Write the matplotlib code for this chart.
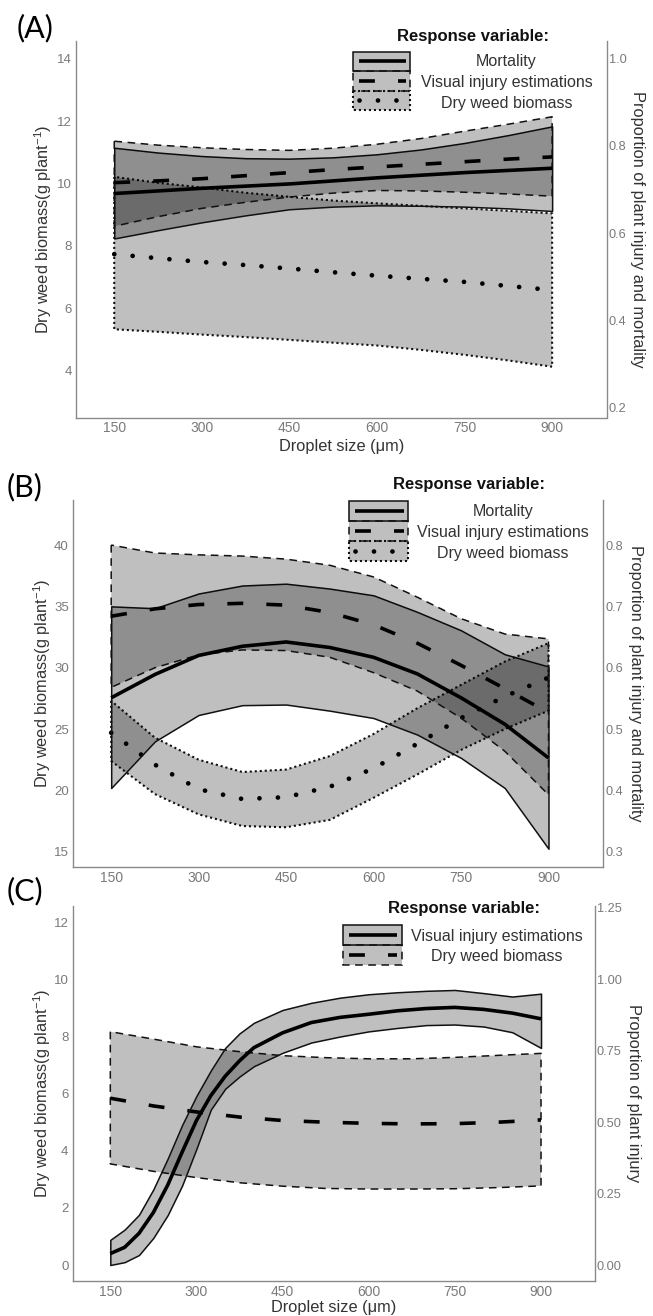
import matplotlib
matplotlib.use('Agg')
import matplotlib.pyplot as plt
from matplotlib.patches import Rectangle
from matplotlib.lines import Line2D

plt.rcParams['font.family'] = ['Liberation Sans', 'DejaVu Sans']
plt.rcParams['mathtext.fontset'] = 'custom'
plt.rcParams['mathtext.rm'] = 'Liberation Sans'
plt.rcParams['mathtext.it'] = 'Liberation Sans:italic'

# ---------------- data ----------------
x75 = [150, 225, 300, 375, 450, 525, 600, 675, 750, 825, 900]

# Panel A
a_mort_lo = [0.588, 0.607, 0.625, 0.641, 0.655, 0.661, 0.664, 0.663, 0.661, 0.657, 0.651]
a_mort_fit = [0.691, 0.697, 0.703, 0.708, 0.713, 0.720, 0.727, 0.733, 0.739, 0.744, 0.749]
a_mort_hi = [0.796, 0.785, 0.777, 0.772, 0.771, 0.774, 0.781, 0.792, 0.807, 0.825, 0.845]
a_inj_lo = [0.616, 0.638, 0.657, 0.671, 0.683, 0.692, 0.698, 0.697, 0.694, 0.690, 0.685]
a_inj_fit = [0.716, 0.720, 0.725, 0.732, 0.739, 0.746, 0.752, 0.758, 0.764, 0.770, 0.775]
a_inj_hi = [0.811, 0.802, 0.796, 0.792, 0.790, 0.795, 0.804, 0.817, 0.834, 0.850, 0.867]
a_bio_lo = [5.32, 5.24, 5.15, 5.07, 4.98, 4.89, 4.80, 4.66, 4.50, 4.32, 4.12]
a_bio_fit = [7.73, 7.60, 7.48, 7.38, 7.27, 7.15, 7.04, 6.94, 6.84, 6.71, 6.58]
a_bio_hi = [10.21, 10.02, 9.87, 9.70, 9.57, 9.45, 9.36, 9.28, 9.20, 9.12, 9.04]

# Panel B
b_mort_lo = [0.404, 0.480, 0.523, 0.539, 0.540, 0.530, 0.518, 0.491, 0.453, 0.404, 0.305]
b_mort_fit = [0.551, 0.589, 0.620, 0.635, 0.642, 0.633, 0.617, 0.590, 0.551, 0.508, 0.453]
b_mort_hi = [0.700, 0.697, 0.721, 0.734, 0.737, 0.729, 0.718, 0.691, 0.661, 0.622, 0.602]
b_inj_lo = [0.568, 0.600, 0.621, 0.629, 0.628, 0.617, 0.592, 0.562, 0.518, 0.464, 0.393]
b_inj_fit = [0.684, 0.696, 0.703, 0.705, 0.702, 0.690, 0.670, 0.640, 0.604, 0.566, 0.527]
b_inj_hi = [0.800, 0.787, 0.784, 0.782, 0.777, 0.767, 0.748, 0.715, 0.680, 0.655, 0.647]
b_bio_lo = [22.4, 19.7, 18.05, 17.1, 17.0, 17.6, 19.4, 21.3, 23.3, 25.0, 26.5]
b_bio_fit = [24.7, 22.1, 20.1, 19.3, 19.45, 20.3, 21.8, 23.8, 25.9, 27.65, 29.2]
b_bio_hi = [27.3, 24.3, 22.5, 21.5, 21.7, 22.8, 24.6, 26.7, 28.6, 30.5, 32.0]

# Panel C
xc_inj = [150, 175, 200, 225, 250, 275, 300, 325, 350, 375, 400, 450, 500, 550,
          600, 650, 700, 750, 800, 850, 900]
c_inj_lo = [0.000, 0.010, 0.035, 0.095, 0.175, 0.278, 0.407, 0.544, 0.617, 0.660, 0.696,
            0.743, 0.779, 0.800, 0.818, 0.830, 0.840, 0.842, 0.835, 0.815, 0.760]
c_inj_fit = [0.040, 0.062, 0.111, 0.184, 0.280, 0.395, 0.506, 0.593, 0.661, 0.715, 0.761,
             0.813, 0.849, 0.867, 0.878, 0.890, 0.898, 0.902, 0.895, 0.882, 0.862]
c_inj_hi = [0.088, 0.124, 0.176, 0.265, 0.373, 0.490, 0.592, 0.681, 0.760, 0.811, 0.848,
            0.893, 0.918, 0.936, 0.948, 0.955, 0.960, 0.963, 0.952, 0.940, 0.950]
c_bio_lo = [3.54, 3.28, 3.06, 2.88, 2.76, 2.68, 2.66, 2.66, 2.67, 2.71, 2.77]
c_bio_fit = [5.84, 5.57, 5.36, 5.18, 5.06, 5.00, 4.96, 4.94, 4.95, 5.00, 5.08]
c_bio_hi = [8.17, 7.91, 7.64, 7.47, 7.33, 7.26, 7.22, 7.22, 7.27, 7.34, 7.41]

x_ticks = [150, 300, 450, 600, 750, 900]
a_left_ticks = [4, 6, 8, 10, 12, 14]
a_right_ticks = [0.2, 0.4, 0.6, 0.8, 1.0]
b_left_ticks = [15, 20, 25, 30, 35, 40]
b_right_ticks = [0.3, 0.4, 0.5, 0.6, 0.7, 0.8]
c_left_ticks = [0, 2, 4, 6, 8, 10, 12]
c_right_ticks = [0.00, 0.25, 0.50, 0.75, 1.00, 1.25]

# ---------------- styles ----------------
W, H = 653, 1316
FILL = (0, 0, 0, 0.25)
EDGE = '#111111'
SPINE = '#8a8a8a'
TICKC = '#7a7a7a'
LABC = '#333333'
BORDER = {'solid': ('-', 1.1), 'dashed': ((0, (5.0, 3.6)), 1.1),
          'dotted': ((0, (1.0, 1.4)), 1.5)}
CENTER = {'solid': ('-', 'butt', 2.6), 'dashed': ((0, (4.4, 6.4)), 'butt', 2.6),
          'dotted': ((0, (0.01, 3.9)), 'round', 3.4)}

fig = plt.figure(figsize=(W / 100, H / 100), dpi=100)


def rect(l, t, r, b):
    return [l / W, 1 - b / H, (r - l) / W, (b - t) / H]


def ribbon(ax, x, lo, fit, hi, kind):
    ls, lw = BORDER[kind]
    ax.fill_between(x, lo, hi, facecolor=FILL, edgecolor=EDGE, linewidth=lw,
                    linestyle=ls, zorder=2)
    cls, cap, clw = CENTER[kind]
    ax.plot(x, fit, color='black', lw=clw, linestyle=cls, dash_capstyle=cap,
            solid_capstyle='butt', zorder=3)


def make_panel(r, ylim_l, ylim_r, lt, rt, rfmt, rlabel, xlabel_y, lx, rx):
    ax = fig.add_axes(rect(*r))
    ax2 = ax.twinx()
    ax.set_xlim(84.5, 994)
    ax.set_ylim(*ylim_l)
    ax2.set_ylim(*ylim_r)
    ax.set_xticks(x_ticks)
    ax.set_yticks(lt)
    ax2.set_yticks(rt)
    ax2.set_yticklabels([rfmt.format(v) for v in rt])
    for s in ['top', 'right']:
        ax.spines[s].set_visible(False)
    for s in ['top', 'left', 'bottom']:
        ax2.spines[s].set_visible(False)
    for sp in [ax.spines['left'], ax.spines['bottom'], ax2.spines['right']]:
        sp.set_color(SPINE)
        sp.set_linewidth(1.0)
    ax.tick_params(axis='y', length=0, labelcolor=TICKC, labelsize=9.5, pad=3.0)
    ax.tick_params(axis='x', length=0, labelcolor=TICKC, labelsize=10, pad=2.6)
    ax2.tick_params(axis='y', length=0, labelcolor=TICKC, labelsize=9.2, pad=1.3)
    ax.set_ylabel('Dry weed biomass(g plant$^{-1}$)', fontsize=11.8, color=LABC, va='center')
    ax.yaxis.set_label_coords(lx, 0.5)
    ax2.set_ylabel(rlabel, fontsize=11.8, color=LABC, rotation=270, va='center')
    ax2.yaxis.set_label_coords(rx, 0.5)
    if xlabel_y is not None:
        ax.set_xlabel('Droplet size (\u03bcm)', fontsize=11.8, color=LABC)
        ax.xaxis.set_label_coords(0.5, xlabel_y)
    return ax, ax2


# Panel A
axA, axA2 = make_panel((76, 41, 607, 417.5), (2.49, 14.57), (0.1776, 1.0407),
                       a_left_ticks, a_right_ticks, '{:.1f}',
                       'Proportion of plant injury and mortality', -0.056, -0.062, 1.0565)
ribbon(axA, x75, a_bio_lo, a_bio_fit, a_bio_hi, 'dotted')
ribbon(axA2, x75, a_mort_lo, a_mort_fit, a_mort_hi, 'solid')
ribbon(axA2, x75, a_inj_lo, a_inj_fit, a_inj_hi, 'dashed')

# Panel B
axB, axB2 = make_panel((73, 500, 603.3, 867), (13.76, 43.67), (0.2752, 0.8734),
                       b_left_ticks, b_right_ticks, '{:.1f}',
                       'Proportion of plant injury and mortality', None, -0.058, 1.0615)
ribbon(axB, x75, b_bio_lo, b_bio_fit, b_bio_hi, 'dotted')
ribbon(axB2, x75, b_mort_lo, b_mort_fit, b_mort_hi, 'solid')
ribbon(axB2, x75, b_inj_lo, b_inj_fit, b_inj_hi, 'dashed')

# Panel C
axC, axC2 = make_panel((72.7, 906, 595, 1281), (-0.56, 12.57), (-0.056, 1.257),
                       c_left_ticks, c_right_ticks, '{:.2f}',
                       'Proportion of plant injury', -0.05, -0.059, 1.0745)
ribbon(axC, x75, c_bio_lo, c_bio_fit, c_bio_hi, 'dashed')
ribbon(axC2, xc_inj, c_inj_lo, c_inj_fit, c_inj_hi, 'solid')

# ---------------- legends & panel letters (overlay) ----------------
ov = fig.add_axes([0, 0, 1, 1], facecolor='none')
ov.set_xlim(0, W)
ov.set_ylim(H, 0)
ov.axis('off')


def legend(title_xy, x0, x1, top, h, label_x, label_ys, items):
    ov.text(title_xy[0], title_xy[1], 'Response variable:', ha='center', va='center',
            fontsize=12, fontweight='bold', color='#111111')
    for i, ((label, kind), ly) in enumerate(zip(items, label_ys)):
        y0 = top + i * h
        yc = y0 + h / 2
        ls, lw = BORDER[kind]
        ov.add_patch(Rectangle((x0, y0), x1 - x0, h, facecolor=FILL,
                               edgecolor=EDGE, lw=lw, ls=ls))
        cls, cap, clw = CENTER[kind]
        ov.add_line(Line2D([x0 + 6, x1 - 4.5], [yc, yc], color='black', lw=clw,
                           ls=cls, dash_capstyle=cap, solid_capstyle='butt'))
        ov.text(label_x, ly, label, ha='center', va='center', fontsize=11.5, color=LABC)


legend((473, 36.5), 353, 410, 51.5, 19.5, 506.5, [61.7, 82.7, 103.3],
       [('Mortality', 'solid'), ('Visual injury estimations', 'dashed'),
        ('Dry weed biomass', 'dotted')])
legend((469, 485), 349.3, 408.3, 500.5, 20.2, 503, [511.7, 533.0, 553.5],
       [('Mortality', 'solid'), ('Visual injury estimations', 'dashed'),
        ('Dry weed biomass', 'dotted')])
legend((464, 909), 343, 401.5, 925, 20.2, 497, [936, 957],
       [('Visual injury estimations', 'solid'), ('Dry weed biomass', 'dashed')])

for lab, x, y in [('(A)', 17, 28), ('(B)', 7, 487), ('(C)', 7, 891)]:
    ov.text(x, y, lab, ha='left', va='center', fontsize=22, family=['Lato', 'DejaVu Sans'],
            color='black')

fig.savefig('out.png', dpi=100)
